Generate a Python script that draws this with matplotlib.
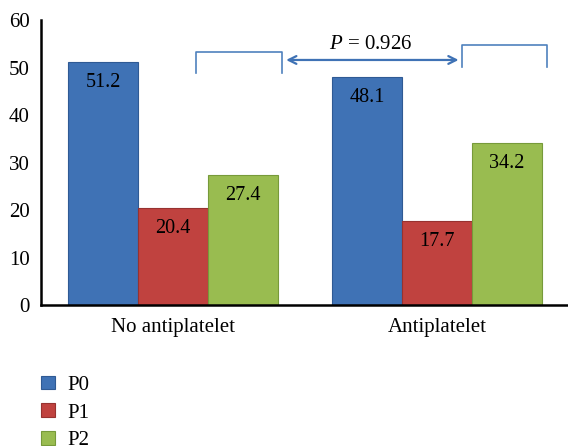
import matplotlib
matplotlib.use("Agg")
import matplotlib.pyplot as plt
import numpy as np

plt.rcParams["font.family"] = "Liberation Serif"
plt.rcParams["mathtext.fontset"] = "custom"
plt.rcParams["mathtext.it"] = "Liberation Serif:italic"
plt.rcParams["mathtext.rm"] = "Liberation Serif"

categories = ["No antiplatelet", "Antiplatelet"]
series_names = ["P0", "P1", "P2"]
p0_values = [51.2, 48.1]
p1_values = [20.4, 17.7]
p2_values = [27.4, 34.2]
y_ticks = [0, 10, 20, 30, 40, 50, 60]
p_text = "0.926"

COLORS = ["#3f72b5", "#c0423f", "#99bc50"]
EDGES = ["#2f5a94", "#973230", "#779a3a"]


def main() -> None:
    fig = plt.figure(figsize=(5.68, 4.46), dpi=100)
    ax = fig.add_axes([0.072, 0.316, 0.93, 0.639])

    x = np.arange(len(categories))
    width = 0.265
    all_values = [p0_values, p1_values, p2_values]
    for i, (name, vals) in enumerate(zip(series_names, all_values)):
        pos = x + (i - 1) * width
        bars = ax.bar(pos, vals, width, color=COLORS[i], edgecolor=EDGES[i],
                      linewidth=0.8, label=name)
        for b, v in zip(bars, vals):
            ax.annotate(f"{v}", (b.get_x() + b.get_width() / 2, v),
                        xytext=(0, -8), textcoords="offset points",
                        ha="center", va="top", fontsize=14.5)

    ax.set_xlim(-0.5, 1.5)
    ax.set_ylim(0, 60)
    ax.set_yticks(y_ticks)
    ax.set_xticks(x)
    ax.set_xticklabels(categories, fontsize=15)
    ax.tick_params(axis="y", labelsize=15, length=0, pad=8)
    ax.tick_params(axis="x", length=0, pad=9)
    for side in ["top", "right"]:
        ax.spines[side].set_visible(False)
    for side in ["left", "bottom"]:
        ax.spines[side].set_linewidth(1.8)

    # significance brackets and arrow
    line_c = "#4f81bd"
    ax.plot([0.089, 0.089, 0.413, 0.413], [48.8, 53.2, 53.2, 48.8],
            color=line_c, lw=1.2, clip_on=False)
    ax.plot([1.096, 1.096, 1.417, 1.417], [50.1, 54.7, 54.7, 50.1],
            color=line_c, lw=1.2, clip_on=False)
    ax.annotate("", xy=(0.418, 51.6), xytext=(1.092, 51.6),
                arrowprops=dict(arrowstyle="<->", color="#3f72b5", lw=1.6,
                                mutation_scale=14))
    ax.text(0.75, 54.8, r"$\it{P}$ = " + p_text, ha="center", va="center",
            fontsize=15)

    fig.legend(loc="upper left", bbox_to_anchor=(0.04, 0.2),
               frameon=False, fontsize=15, handlelength=0.63,
               handleheight=0.63, labelspacing=0.42, handletextpad=0.6)

    fig.savefig("out.png", dpi=100)


if __name__ == "__main__":
    main()
